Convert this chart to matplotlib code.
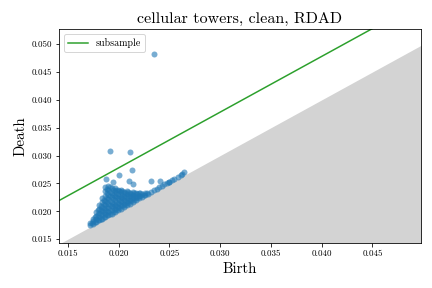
import matplotlib
matplotlib.use("Agg")
import matplotlib.pyplot as plt
import numpy as np

plt.rcParams['font.family'] = ['cmr10', 'DejaVu Serif']
plt.rcParams['mathtext.fontset'] = 'cm'
plt.rcParams['axes.formatter.use_mathtext'] = True

title = "cellular towers, clean, RDAD"
legend_label = "subsample"
band_offset = 0.0078

birth = [
    0.0172, 0.0172,
    0.0175, 0.0175, 0.0175,
    0.0178, 0.0178, 0.0178, 0.0178,
    0.0181, 0.0181, 0.0181, 0.0181, 0.0181,
    0.0184, 0.0184, 0.0184, 0.0184, 0.0184, 0.0184,
    0.0187, 0.0187, 0.0187, 0.0187, 0.0187, 0.0187, 0.0187, 0.0187,
    0.0190, 0.0190, 0.0190, 0.0190, 0.0190, 0.0190, 0.0190, 0.0190,
    0.0193, 0.0193, 0.0193, 0.0193, 0.0193, 0.0193, 0.0193,
    0.0196, 0.0196, 0.0196, 0.0196, 0.0196, 0.0196, 0.0196,
    0.0199, 0.0199, 0.0199, 0.0199, 0.0199, 0.0199,
    0.0202, 0.0202, 0.0202, 0.0202, 0.0202, 0.0202,
    0.0205, 0.0205, 0.0205, 0.0205, 0.0205,
    0.0208, 0.0208, 0.0208, 0.0208, 0.0208,
    0.0211, 0.0211, 0.0211, 0.0211,
    0.0214, 0.0214, 0.0214, 0.0214,
    0.0217, 0.0217, 0.0217,
    0.0220, 0.0220, 0.0220,
    0.0223, 0.0223,
    0.0226, 0.0226,
    0.0229,
    # intermediate fill
    0.01735, 0.01765, 0.01765, 0.01795, 0.01795, 0.01795,
    0.01825, 0.01825, 0.01825, 0.01825,
    0.01855, 0.01855, 0.01855, 0.01855, 0.01855,
    0.01885, 0.01885, 0.01885, 0.01885, 0.01885, 0.01885, 0.01885,
    0.01915, 0.01915, 0.01915, 0.01915, 0.01915, 0.01915, 0.01915,
    0.01945, 0.01945, 0.01945, 0.01945, 0.01945, 0.01945,
    0.01975, 0.01975, 0.01975, 0.01975, 0.01975, 0.01975,
    0.02005, 0.02005, 0.02005, 0.02005, 0.02005,
    0.02035, 0.02035, 0.02035, 0.02035, 0.02035,
    0.02065, 0.02065, 0.02065, 0.02065,
    0.02095, 0.02095, 0.02095, 0.02095,
    0.02125, 0.02125, 0.02125,
    0.02155, 0.02155, 0.02155,
    0.02185, 0.02185,
    0.02215, 0.02215,
    0.02245, 0.02275,
    # along diagonal
    0.0232, 0.0235, 0.0238, 0.0240, 0.0243, 0.0245, 0.0248, 0.0250,
    0.0253, 0.0255, 0.0258, 0.0262,
    # outliers
    0.0191, 0.0211, 0.0213, 0.0200, 0.0188, 0.0210, 0.0214,
    0.0232, 0.0241, 0.0194, 0.0264, 0.0261, 0.0250, 0.0235,
]
death = [
    0.0176, 0.0179,
    0.0178, 0.0182, 0.0187,
    0.0181, 0.0186, 0.0192, 0.0199,
    0.0184, 0.0190, 0.0197, 0.0205, 0.0212,
    0.0187, 0.0193, 0.0200, 0.0208, 0.0216, 0.0224,
    0.0190, 0.0196, 0.0203, 0.0211, 0.0219, 0.0228, 0.0236, 0.0244,
    0.0193, 0.0199, 0.0206, 0.0214, 0.0222, 0.0230, 0.0238, 0.0246,
    0.0196, 0.0202, 0.0209, 0.0217, 0.0225, 0.0233, 0.0241,
    0.0199, 0.0205, 0.0212, 0.0220, 0.0228, 0.0236, 0.0242,
    0.0202, 0.0208, 0.0215, 0.0223, 0.0231, 0.0239,
    0.0205, 0.0211, 0.0218, 0.0226, 0.0234, 0.0238,
    0.0208, 0.0214, 0.0221, 0.0228, 0.0235,
    0.0211, 0.0217, 0.0224, 0.0231, 0.0236,
    0.0214, 0.0220, 0.0227, 0.0233,
    0.0217, 0.0223, 0.0229, 0.0234,
    0.0220, 0.0226, 0.0232,
    0.0223, 0.0228, 0.0233,
    0.0226, 0.0231,
    0.0229, 0.0232,
    0.0231,
    # intermediate fill
    0.0179, 0.0181, 0.0189, 0.0184, 0.0193, 0.0202,
    0.0187, 0.0195, 0.0203, 0.0210,
    0.0190, 0.0198, 0.0206, 0.0213, 0.0220,
    0.0193, 0.0201, 0.0208, 0.0216, 0.0224, 0.0232, 0.0240,
    0.0196, 0.0203, 0.0211, 0.0219, 0.0227, 0.0235, 0.0243,
    0.0199, 0.0207, 0.0214, 0.0222, 0.0230, 0.0238,
    0.0202, 0.0210, 0.0217, 0.0225, 0.0233, 0.0239,
    0.0206, 0.0213, 0.0220, 0.0228, 0.0236,
    0.0209, 0.0216, 0.0223, 0.0230, 0.0237,
    0.0212, 0.0219, 0.0226, 0.0233,
    0.0215, 0.0221, 0.0228, 0.0234,
    0.0218, 0.0224, 0.0231,
    0.0221, 0.0227, 0.0233,
    0.0224, 0.0231,
    0.0227, 0.0232,
    0.0230, 0.0232,
    # along diagonal
    0.0234, 0.0238, 0.0240, 0.0243, 0.0245, 0.0249, 0.0251, 0.0253,
    0.0256, 0.0258, 0.0262, 0.0267,
    # outliers
    0.0309, 0.0306, 0.0274, 0.0266, 0.0258, 0.0255, 0.0249,
    0.0254, 0.0254, 0.0252, 0.0271, 0.0266, 0.0253, 0.0483,
]

xlim = (0.0141, 0.0498)
ylim = (0.0143, 0.0527)

fig, ax = plt.subplots(figsize=(6, 4), dpi=72)
fig.subplots_adjust(left=0.136, right=0.975, top=0.899, bottom=0.156)

ax.scatter(birth, death, s=36, color='#1f77b4', alpha=0.6, linewidths=0, zorder=3)

xs = np.array(xlim)
ax.fill_between(xs, ylim[0], xs, color='lightgray', zorder=1, linewidth=0)
ax.plot(xs, xs + band_offset, color='#2ca02c', linewidth=1.5, label=legend_label, zorder=2)

ax.set_xlim(*xlim)
ax.set_ylim(*ylim)
ax.set_xticks([0.015, 0.020, 0.025, 0.030, 0.035, 0.040, 0.045])
ax.set_yticks([0.015, 0.020, 0.025, 0.030, 0.035, 0.040, 0.045, 0.050])
ax.xaxis.set_major_formatter(matplotlib.ticker.FormatStrFormatter('%.3f'))
ax.yaxis.set_major_formatter(matplotlib.ticker.FormatStrFormatter('%.3f'))
ax.tick_params(labelsize=9)

ax.set_title(title, fontsize=16)
ax.set_xlabel("Birth", fontsize=15)
ax.set_ylabel("Death", fontsize=15)
ax.legend(loc='upper left', fontsize=10)

fig.savefig("out.png", dpi=72)
